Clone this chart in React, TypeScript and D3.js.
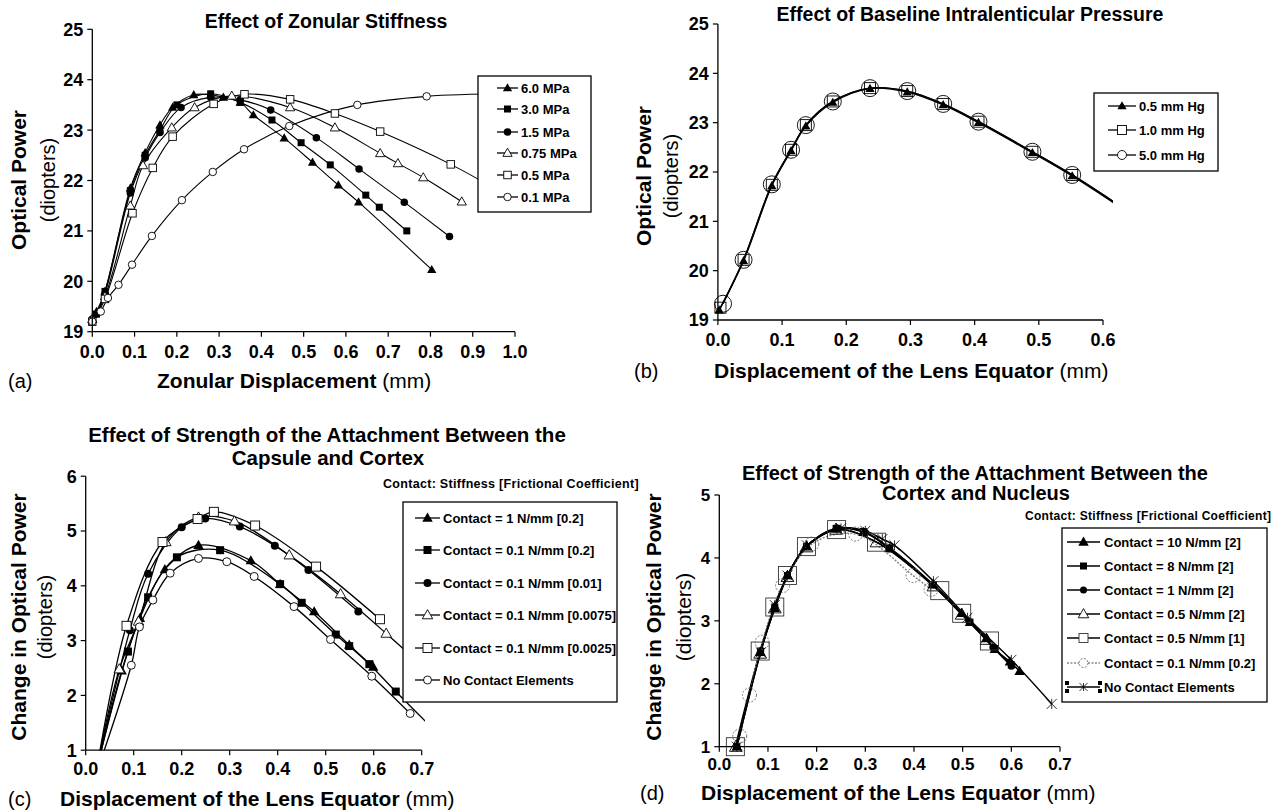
import React from 'react';
import * as d3 from 'd3';

const FONT = "'Liberation Sans', Arial, Helvetica, sans-serif";

// ---------- data: (a) zonular stiffness ----------
const a60 = [[0.0, 19.25], [0.01, 19.4], [0.03, 19.8], [0.09, 21.85], [0.125, 22.55], [0.16, 23.1], [0.19, 23.45], [0.24, 23.7], [0.28, 23.7], [0.31, 23.65], [0.35, 23.55], [0.381, 23.3], [0.454, 22.84], [0.521, 22.36], [0.582, 21.91], [0.63, 21.57], [0.803, 20.23]];
const a30 = [[0.0, 19.2], [0.01, 19.35], [0.03, 19.8], [0.09, 21.8], [0.125, 22.5], [0.16, 23.0], [0.2, 23.5], [0.28, 23.72], [0.35, 23.55], [0.425, 23.2], [0.494, 22.75], [0.563, 22.31], [0.647, 21.71], [0.679, 21.47], [0.744, 21.0]];
const a15 = [[0.0, 19.25], [0.01, 19.35], [0.03, 19.75], [0.09, 21.75], [0.125, 22.45], [0.16, 22.95], [0.21, 23.45], [0.28, 23.65], [0.35, 23.6], [0.422, 23.4], [0.53, 22.85], [0.631, 22.23], [0.738, 21.57], [0.845, 20.89]];
const a075 = [[0.0, 19.25], [0.03, 19.7], [0.09, 21.5], [0.12, 22.3], [0.188, 23.05], [0.242, 23.45], [0.33, 23.68], [0.468, 23.45], [0.574, 23.05], [0.681, 22.54], [0.723, 22.34], [0.783, 22.06], [0.874, 21.58]];
const a05 = [[0.0, 19.2], [0.03, 19.65], [0.095, 21.35], [0.143, 22.25], [0.19, 22.87], [0.287, 23.52], [0.36, 23.71], [0.468, 23.61], [0.574, 23.33], [0.681, 22.97], [0.848, 22.32], [0.96, 21.8]];
const a01 = [[0.0, 19.2], [0.02, 19.4], [0.037, 19.67], [0.062, 19.93], [0.094, 20.33], [0.141, 20.9], [0.212, 21.61], [0.285, 22.17], [0.359, 22.62], [0.466, 23.08], [0.627, 23.5], [0.791, 23.67], [0.98, 23.72]];

// ---------- data: (b) baseline pressure ----------
const b05 = [[0.002, 19.2], [0.04, 20.2], [0.084, 21.72], [0.114, 22.43], [0.137, 22.93], [0.179, 23.41], [0.237, 23.69], [0.295, 23.62], [0.351, 23.36], [0.406, 23.0], [0.49, 22.39], [0.552, 21.92], [0.66, 21.0]];
const b10 = [[0.004, 19.25], [0.04, 20.22], [0.084, 21.74], [0.114, 22.45], [0.137, 22.95], [0.179, 23.43], [0.237, 23.7], [0.295, 23.64], [0.351, 23.38], [0.406, 23.02], [0.49, 22.41], [0.552, 21.94], [0.66, 21.02]];
const b50 = [[0.008, 19.33], [0.04, 20.22], [0.084, 21.75], [0.114, 22.45], [0.137, 22.95], [0.179, 23.43], [0.237, 23.7], [0.295, 23.64], [0.351, 23.38], [0.406, 23.02], [0.49, 22.41], [0.552, 21.94], [0.66, 21.02]];

// ---------- data: (c) capsule / cortex ----------
const c1_02 = [[0.027, 0.8], [0.075, 2.45], [0.113, 3.41], [0.165, 4.3], [0.235, 4.74], [0.344, 4.46], [0.405, 4.03], [0.476, 3.53], [0.549, 2.92], [0.599, 2.52]];
const c01_02 = [[0.027, 0.8], [0.088, 2.8], [0.13, 3.79], [0.19, 4.52], [0.28, 4.65], [0.405, 4.03], [0.45, 3.69], [0.521, 3.11], [0.549, 2.9], [0.591, 2.57], [0.646, 2.07], [0.72, 1.42]];
const c01_001 = [[0.026, 0.8], [0.092, 3.19], [0.13, 4.22], [0.2, 5.07], [0.249, 5.23], [0.321, 5.08], [0.394, 4.73], [0.464, 4.29], [0.568, 3.53]];
const c01_00075 = [[0.026, 0.8], [0.07, 2.48], [0.11, 3.35], [0.167, 4.8], [0.235, 5.25], [0.31, 5.18], [0.424, 4.56], [0.531, 3.85], [0.626, 3.13], [0.7, 2.55]];
const c01_00025 = [[0.026, 0.8], [0.085, 3.27], [0.16, 4.8], [0.233, 5.22], [0.267, 5.35], [0.353, 5.1], [0.48, 4.35], [0.613, 3.39]];
const cNone = [[0.031, 0.8], [0.095, 2.55], [0.112, 3.25], [0.14, 3.74], [0.176, 4.23], [0.235, 4.5], [0.294, 4.44], [0.351, 4.17], [0.434, 3.62], [0.51, 3.02], [0.596, 2.35], [0.676, 1.67]];

// ---------- data: (d) cortex / nucleus ----------
const d10 = [[0.036, 1.0], [0.084, 2.5], [0.114, 3.2], [0.14, 3.72], [0.179, 4.18], [0.24, 4.46], [0.296, 4.41], [0.35, 4.15], [0.439, 3.58], [0.498, 3.12], [0.515, 2.98], [0.549, 2.72], [0.566, 2.55], [0.597, 2.35], [0.617, 2.2]];
const d8 = [[0.036, 1.0], [0.085, 2.52], [0.114, 3.22], [0.14, 3.72], [0.179, 4.18], [0.24, 4.47], [0.296, 4.42], [0.35, 4.16], [0.44, 3.57], [0.515, 2.98], [0.566, 2.56], [0.6, 2.3]];
const d1 = [[0.036, 1.0], [0.084, 2.5], [0.114, 3.22], [0.14, 3.72], [0.179, 4.18], [0.245, 4.47], [0.3, 4.41], [0.35, 4.14], [0.437, 3.58], [0.512, 3.0], [0.562, 2.58], [0.6, 2.28]];
const d05_2 = [[0.034, 1.0], [0.084, 2.48], [0.114, 3.2], [0.14, 3.7], [0.179, 4.17], [0.24, 4.45], [0.323, 4.25], [0.44, 3.55], [0.498, 3.1], [0.549, 2.7]];
const d05_1 = [[0.033, 1.0], [0.084, 2.52], [0.114, 3.22], [0.14, 3.72], [0.179, 4.18], [0.241, 4.45], [0.323, 4.25], [0.453, 3.48], [0.498, 3.12], [0.555, 2.68]];
const d01_02 = [[0.042, 1.17], [0.062, 1.82], [0.088, 2.66], [0.13, 3.56], [0.19, 4.22], [0.28, 4.38], [0.398, 3.72], [0.435, 3.5]];
const dNone = [[0.036, 1.0], [0.085, 2.5], [0.114, 3.25], [0.14, 3.72], [0.18, 4.2], [0.25, 4.47], [0.3, 4.43], [0.335, 4.3], [0.36, 4.2], [0.44, 3.63], [0.51, 3.05], [0.6, 2.38], [0.683, 1.68]];

// ---------- ticks ----------
const ticksA_x = [0, 0.1, 0.2, 0.3, 0.4, 0.5, 0.6, 0.7, 0.8, 0.9, 1.0];
const ticksA_y = [19, 20, 21, 22, 23, 24, 25];
const ticksB_x = [0, 0.1, 0.2, 0.3, 0.4, 0.5, 0.6];
const ticksCD_x = [0, 0.1, 0.2, 0.3, 0.4, 0.5, 0.6, 0.7];
const ticksC_y = [1, 2, 3, 4, 5, 6];
const ticksD_y = [1, 2, 3, 4, 5];

const Marker = ({ type, x, y, s, fill, stroke, dash }) => {
  const sw = 0.9;
  const st = stroke || '#000';
  const of = fill || '#fff';
  if (type === 'triF' || type === 'triO') {
    const d = `M${x},${y - s * 0.6}L${x + s * 0.58},${y + s * 0.42}L${x - s * 0.58},${y + s * 0.42}Z`;
    return type === 'triF' ? <path d={d} fill="#000" /> : <path d={d} fill={of} stroke={st} strokeWidth={sw} />;
  }
  if (type === 'sqF') return <rect x={x - s / 2} y={y - s / 2} width={s} height={s} fill="#000" />;
  if (type === 'sqO') return <rect x={x - s / 2} y={y - s / 2} width={s} height={s} fill={of} stroke={st} strokeWidth={sw} />;
  if (type === 'circF') return <circle cx={x} cy={y} r={s / 2} fill="#000" />;
  if (type === 'circO') return <circle cx={x} cy={y} r={s / 2} fill={of} stroke={st} strokeWidth={sw} strokeDasharray={dash} />;
  if (type === 'star') {
    const h = s / 2;
    return (
      <path d={`M${x - h},${y - h}L${x + h},${y + h}M${x - h},${y + h}L${x + h},${y - h}M${x},${y - h}L${x},${y + h}`} stroke="#000" strokeWidth={0.8} fill="none" />
    );
  }
  return null;
};

const panels = [
  {
    id: 'a',
    px: [92.3, 515], py: [331.7, 29.3], xDomain: [0, 1], yDomain: [19, 25],
    xTicks: ticksA_x, yTicks: ticksA_y, xFmt: d3.format('.1f'), yFmt: d3.format('d'),
    tickFont: 18, xTickDy: 26, clipRight: 700, padBottom: 14,
    title: [{ text: 'Effect of Zonular Stiffness', x: 326, y: 28 }], titleSize: 19.5,
    yLab: ['Optical Power', 25.5, 180], ySub: ['(diopters)', 55, 180],
    xLab: ['Zonular Displacement ', 157, 388], tag: ['(a)', 8, 388],
    legend: { x: 478, y: 76, w: 113, h: 136, rows: [88, 109, 132, 153, 175, 197], l0: 497, l1: 518, tx: 521 },
    series: [
      { name: '6.0 MPa', data: a60, m: 'triF', s: 8 },
      { name: '3.0 MPa', data: a30, m: 'sqF', s: 7 },
      { name: '1.5 MPa', data: a15, m: 'circF', s: 7.5 },
      { name: '0.75 MPa', data: a075, m: 'triO', s: 8 },
      { name: '0.5 MPa', data: a05, m: 'sqO', s: 7.5 },
      { name: '0.1 MPa', data: a01, m: 'circO', s: 7.5 },
    ],
    lw: 1.1,
  },
  {
    id: 'b',
    px: [717.9, 1103], py: [320, 24], xDomain: [0, 0.6], yDomain: [19, 25],
    xTicks: ticksB_x, yTicks: ticksA_y, xFmt: d3.format('.1f'), yFmt: d3.format('d'),
    tickFont: 18, xTickDy: 26, clipRight: 1113, padBottom: 14,
    title: [{ text: 'Effect of Baseline Intralenticular Pressure', x: 970, y: 21 }], titleSize: 19.5,
    yLab: ['Optical Power', 650.5, 176], ySub: ['(diopters)', 678, 176],
    xLab: ['Displacement of the Lens Equator ', 714, 378], tag: ['(b)', 634, 378],
    legend: { x: 1094, y: 93, w: 124, h: 78, rows: [106, 130, 155], l0: 1108, l1: 1136, tx: 1139 },
    series: [
      { name: '0.5 mm Hg', data: b05, m: 'triF', s: 8 },
      { name: '1.0 mm Hg', data: b10, m: 'sqO', s: 11, fill: 'none', ls: 9 },
      { name: '5.0 mm Hg', data: b50, m: 'circO', s: 17, fill: 'none', ls: 9 },
    ],
    lw: 1.4,
  },
  {
    id: 'c',
    px: [85.7, 421.7], py: [750.2, 476.2], xDomain: [0, 0.7], yDomain: [1, 6],
    xTicks: ticksCD_x, yTicks: ticksC_y, xFmt: d3.format('.1f'), yFmt: d3.format('d'),
    tickFont: 18, xTickDy: 25, clipRight: 425, padBottom: 0,
    title: [
      { text: 'Effect of Strength of the Attachment Between the', x: 327, y: 442 },
      { text: 'Capsule and Cortex', x: 328, y: 465 },
    ], titleSize: 20.5,
    yLab: ['Change in Optical Power', 26, 617], ySub: ['(diopters)', 52, 617],
    xLab: ['Displacement of the Lens Equator ', 60, 806], tag: ['(c)', 8, 806],
    note: ['Contact: Stiffness [Frictional Coefficient]', 383, 488, 12.5],
    legend: { x: 403, y: 502, w: 214, h: 200, rows: [518, 550, 583, 615, 648, 680], l0: 415, l1: 440, tx: 443 },
    series: [
      { name: 'Contact = 1 N/mm [0.2]', data: c1_02, m: 'triF', s: 9 },
      { name: 'Contact =  0.1 N/mm [0.2]', data: c01_02, m: 'sqF', s: 8 },
      { name: 'Contact = 0.1 N/mm [0.01]', data: c01_001, m: 'circF', s: 8 },
      { name: 'Contact = 0.1 N/mm [0.0075]', data: c01_00075, m: 'triO', s: 9 },
      { name: 'Contact = 0.1 N/mm [0.0025]', data: c01_00025, m: 'sqO', s: 9 },
      { name: 'No Contact Elements', data: cNone, m: 'circO', s: 8 },
    ],
    lw: 1.3,
  },
  {
    id: 'd',
    px: [719.3, 1060], py: [746.7, 495], xDomain: [0, 0.7], yDomain: [1, 5],
    xTicks: ticksCD_x, yTicks: ticksD_y, xFmt: d3.format('.1f'), yFmt: d3.format('d'),
    tickFont: 17, xTickDy: 23, clipRight: 1200, padBottom: 14,
    title: [
      { text: 'Effect of Strength of the Attachment Between the', x: 975, y: 480 },
      { text: 'Cortex and Nucleus', x: 976, y: 500 },
    ], titleSize: 20,
    yLab: ['Change in Optical Power', 660.5, 617], ySub: ['(diopters)', 691, 617], subSize: 21,
    xLab: ['Displacement of the Lens Equator ', 701, 800], tag: ['(d)', 640, 800],
    note: ['Contact: Stiffness [Frictional Coefficient]', 1025, 520, 12],
    legend: { x: 1062, y: 528, w: 205, h: 174, rows: [542, 566, 590, 614, 638, 663, 687], l0: 1067, l1: 1100, tx: 1104 },
    series: [
      { name: 'Contact = 10 N/mm [2]', data: d10, m: 'triF', s: 9 },
      { name: 'Contact = 8 N/mm [2]', data: d8, m: 'sqF', s: 7 },
      { name: 'Contact = 1 N/mm [2]', data: d1, m: 'circF', s: 7 },
      { name: 'Contact = 0.5 N/mm [2]', data: d05_2, m: 'triO', s: 11, fill: 'none', ls: 9 },
      { name: 'Contact = 0.5 N/mm [1]', data: d05_1, m: 'sqO', s: 18, fill: 'none', stroke: '#333', ls: 9 },
      { name: 'Contact = 0.1 N/mm [0.2]', data: d01_02, m: 'circO', s: 14, fill: 'none', stroke: '#666', dash: '2,1.5', color: '#888', ldash: '2,1.5', ls: 9 },
      { name: 'No Contact Elements', data: dNone, m: 'star', s: 10, ls: 8, ends: true },
    ],
    lw: 1.5,
  },
];

const Panel = ({ p }) => {
  const xs = d3.scaleLinear().domain(p.xDomain).range(p.px);
  const ys = d3.scaleLinear().domain(p.yDomain).range(p.py);
  const line = d3.line().x((d) => xs(d[0])).y((d) => ys(d[1])).curve(d3.curveCatmullRom.alpha(0.5));
  const [x0, x1] = p.px;
  const [yb, yt] = p.py;
  const lg = p.legend;
  return (
    <g fontFamily={FONT}>
      <defs>
        <clipPath id={`lc-${p.id}`}><rect x={x0} y={yt - 2} width={p.clipRight - x0} height={yb - yt + 2} /></clipPath>
        <clipPath id={`mc-${p.id}`}><rect x={x0 - 14} y={yt - 14} width={p.clipRight - x0 + 14} height={yb - yt + 14 + p.padBottom} /></clipPath>
      </defs>

      {p.title.map((t, i) => (
        <text key={i} x={t.x} y={t.y} textAnchor="middle" fontWeight="bold" fontSize={p.titleSize}>{t.text}</text>
      ))}

      {/* series */}
      <g clipPath={`url(#lc-${p.id})`}>
        {p.series.map((s, i) => (
          <path key={i} d={line(s.data)} fill="none" stroke={s.color || '#000'} strokeWidth={p.lw} strokeDasharray={s.ldash} />
        ))}
      </g>
      <g clipPath={`url(#mc-${p.id})`}>
        {p.series.map((s, i) => (
          <g key={i}>
            {s.data.map((d, j) => (
              <Marker key={j} type={s.m} x={xs(d[0])} y={ys(d[1])} s={s.s} fill={s.fill} stroke={s.stroke} dash={s.dash} />
            ))}
          </g>
        ))}
      </g>

      {/* axes */}
      <line x1={x0} x2={x0} y1={yt} y2={yb} stroke="#000" strokeWidth={1.3} />
      <line x1={x0} x2={x1} y1={yb} y2={yb} stroke="#000" strokeWidth={1.3} />
      {p.yTicks.map((t) => (
        <g key={`y${t}`}>
          <line x1={x0 - 5} x2={x0} y1={ys(t)} y2={ys(t)} stroke="#000" strokeWidth={1.2} />
          <text x={x0 - 9} y={ys(t)} dy="0.36em" textAnchor="end" fontWeight="bold" fontSize={p.tickFont}>{p.yFmt(t)}</text>
        </g>
      ))}
      {p.xTicks.map((t) => (
        <g key={`x${t}`}>
          <line x1={xs(t)} x2={xs(t)} y1={yb} y2={yb + 5} stroke="#000" strokeWidth={1.2} />
          <text x={xs(t)} y={yb + p.xTickDy} textAnchor="middle" fontWeight="bold" fontSize={p.tickFont}>{p.xFmt(t)}</text>
        </g>
      ))}

      {/* axis labels */}
      <text transform={`translate(${p.yLab[1]},${p.yLab[2]}) rotate(-90)`} textAnchor="middle" fontWeight="bold" fontSize={21}>{p.yLab[0]}</text>
      <text transform={`translate(${p.ySub[1]},${p.ySub[2]}) rotate(-90)`} textAnchor="middle" fontSize={p.subSize || 20}>{p.ySub[0]}</text>
      <text x={p.xLab[1]} y={p.xLab[2]} fontSize={21}>
        <tspan fontWeight="bold">{p.xLab[0]}</tspan>
        <tspan>(mm)</tspan>
      </text>
      <text x={p.tag[1]} y={p.tag[2]} fontSize={20}>{p.tag[0]}</text>
      {p.note && (
        <text x={p.note[1]} y={p.note[2]} fontSize={p.note[3]} fontWeight="bold" letterSpacing={0.3}>{p.note[0]}</text>
      )}

      {/* legend */}
      <rect x={lg.x} y={lg.y} width={lg.w} height={lg.h} fill="#fff" stroke="#000" strokeWidth={1.3} />
      {p.series.map((s, i) => {
        const y = lg.rows[i];
        const mx = (lg.l0 + lg.l1) / 2;
        return (
          <g key={i}>
            <line x1={lg.l0} x2={lg.l1} y1={y} y2={y} stroke={s.color || '#000'} strokeWidth={1.3} strokeDasharray={s.ldash} />
            {s.ends && [lg.l0, lg.l1].map((ex) => (
              <g key={ex}>
                <rect x={ex - 2} y={y - 6} width={4} height={4} fill="#000" />
                <rect x={ex - 2} y={y + 2} width={4} height={4} fill="#000" />
              </g>
            ))}
            <Marker type={s.m} x={mx} y={y} s={s.ls || s.s} fill={s.fill === 'none' ? '#fff' : s.fill} stroke={s.stroke} dash={s.dash} />
            <text x={lg.tx} y={y} dy="0.36em" fontWeight="bold" fontSize={13}>{s.name}</text>
          </g>
        );
      })}
    </g>
  );
}

export default function App() {
  return (
    <svg width={1275} height={811} style={{ position: 'absolute', left: 0, top: 0, background: '#fff' }}>
      <rect width={1275} height={811} fill="#fff" />
      {panels.map((p) => <Panel key={p.id} p={p} />)}
    </svg>
  );
}
